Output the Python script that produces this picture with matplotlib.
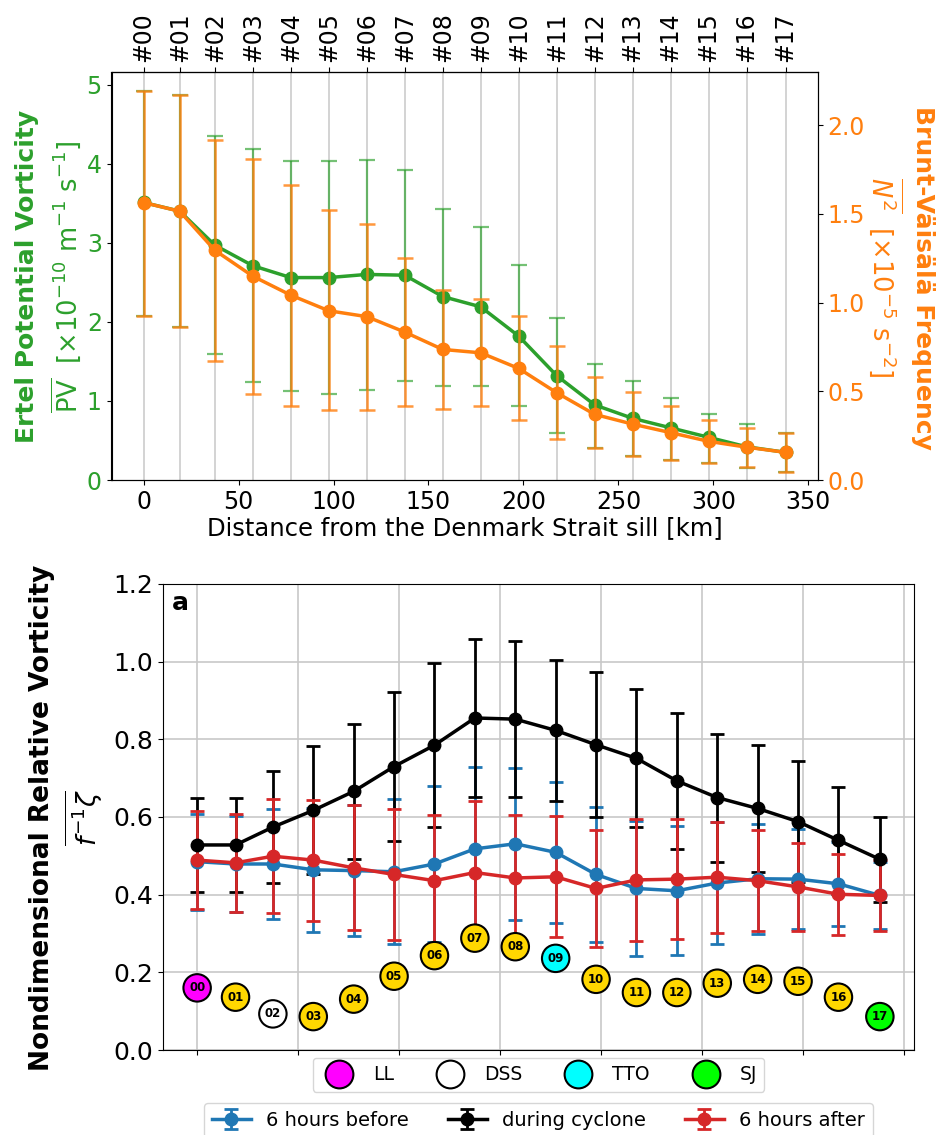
import numpy as np
import matplotlib.pyplot as plt
from matplotlib.lines import Line2D

W, H = 938, 1135

# distance of each section from the sill [km]
dist = [0, 19, 37.5, 57.5, 77.5, 97.5, 117.5, 137.5, 157.5, 177.5,
        197.5, 217.5, 237.5, 257.5, 277.5, 297.5, 317.5, 338]
sections = ['#%02d' % i for i in range(18)]

# Ertel potential vorticity [1e-10 m-1 s-1]
pv_mean = [3.51, 3.40, 2.97, 2.71, 2.56, 2.56, 2.60, 2.59, 2.32, 2.19,
           1.82, 1.32, 0.95, 0.78, 0.66, 0.54, 0.42, 0.35]
pv_hi = [4.92, 4.87, 4.35, 4.18, 4.03, 4.04, 4.05, 3.92, 3.43, 3.20,
         2.72, 2.05, 1.47, 1.25, 1.04, 0.84, 0.71, 0.60]
pv_lo = [2.08, 1.94, 1.59, 1.24, 1.12, 1.09, 1.14, 1.25, 1.19, 1.19,
         0.93, 0.59, 0.41, 0.30, 0.25, 0.21, 0.15, 0.10]

# Brunt-Vaisala frequency N^2 [1e-5 s-2]
n2_mean = [1.564, 1.515, 1.295, 1.149, 1.042, 0.954, 0.921, 0.834, 0.736, 0.717,
           0.629, 0.492, 0.370, 0.315, 0.267, 0.218, 0.185, 0.156]
n2_hi = [2.193, 2.171, 1.917, 1.810, 1.662, 1.520, 1.444, 1.252, 1.070, 1.021,
         0.927, 0.753, 0.579, 0.495, 0.419, 0.339, 0.294, 0.267]
n2_lo = [0.927, 0.865, 0.669, 0.486, 0.415, 0.397, 0.397, 0.415, 0.401, 0.415,
         0.339, 0.232, 0.178, 0.134, 0.111, 0.094, 0.076, 0.045]

# nondimensional relative vorticity, mean and std
before_mean = [0.485, 0.479, 0.479, 0.464, 0.462, 0.459, 0.479, 0.518, 0.531, 0.509,
               0.452, 0.416, 0.410, 0.430, 0.441, 0.440, 0.428, 0.398]
before_std = [0.124, 0.124, 0.142, 0.160, 0.169, 0.187, 0.200, 0.210, 0.195, 0.182,
              0.173, 0.173, 0.166, 0.158, 0.142, 0.128, 0.108, 0.086]
during_mean = [0.528, 0.528, 0.574, 0.617, 0.666, 0.730, 0.785, 0.855, 0.852, 0.823,
               0.786, 0.751, 0.693, 0.650, 0.622, 0.588, 0.540, 0.491]
during_std = [0.121, 0.120, 0.144, 0.165, 0.173, 0.193, 0.211, 0.204, 0.200, 0.182,
              0.187, 0.178, 0.175, 0.165, 0.163, 0.155, 0.137, 0.110]
after_mean = [0.489, 0.482, 0.499, 0.489, 0.469, 0.452, 0.436, 0.457, 0.443, 0.446,
              0.416, 0.438, 0.440, 0.445, 0.436, 0.420, 0.401, 0.398]
after_std = [0.126, 0.126, 0.147, 0.156, 0.161, 0.169, 0.168, 0.185, 0.162, 0.156,
             0.151, 0.158, 0.154, 0.143, 0.130, 0.113, 0.105, 0.091]

# section markers
sec_y = [0.160, 0.136, 0.093, 0.086, 0.131, 0.190, 0.243, 0.288, 0.266, 0.236,
         0.182, 0.148, 0.148, 0.172, 0.182, 0.177, 0.136, 0.086]
sec_type = ['LL', 'x', 'DSS', 'x', 'x', 'x', 'x', 'x', 'x', 'TTO',
            'x', 'x', 'x', 'x', 'x', 'x', 'x', 'SJ']
type_col = {'LL': '#ff00ff', 'DSS': 'white', 'TTO': '#00ffff', 'SJ': '#00ff00', 'x': '#ffd700'}

green = '#2ca02c'
orange = '#ff7f0e'

fig = plt.figure(figsize=(W / 100, H / 100), dpi=100)


def px(x, y):
    return x / W, 1 - y / H


# ---------------- top panel ----------------
ax = fig.add_axes([111.5 / W, 1 - 480 / H, (817.6 - 111.5) / W, (480 - 72) / H])
for d in dist:
    ax.axvline(d, color='#cccccc', lw=1.2, zorder=0)

pm = np.array(pv_mean)
l, caps, bars = ax.errorbar(dist, pm, yerr=[pm - np.array(pv_lo), np.array(pv_hi) - pm],
                            color=green, marker='o', ms=9, lw=2.5, elinewidth=1.6,
                            capsize=6, capthick=1.6)
for c in caps:
    c.set_alpha(0.65)
for b in bars:
    b.set_alpha(0.65)
ax.set_xlim(-16.9, 354.9)
ax.set_ylim(0, 5.16)
ax.set_xticks(np.arange(0, 351, 50))
ax.tick_params(axis='x', labelsize=17)
ax.tick_params(axis='y', labelsize=17, labelcolor=green)
ax.set_xlabel('Distance from the Denmark Strait sill [km]', fontsize=17.5, labelpad=2)

axr = ax.twinx()
nm = np.array(n2_mean)
l, caps, bars = axr.errorbar(dist, nm, yerr=[nm - np.array(n2_lo), np.array(n2_hi) - nm],
                             color=orange, marker='o', ms=9, lw=2.5, elinewidth=1.8,
                             capsize=6, capthick=1.8)
for c in caps:
    c.set_alpha(0.8)
for b in bars:
    b.set_alpha(0.8)
axr.set_ylim(0, 2.30)
axr.set_yticks([0, 0.5, 1.0, 1.5, 2.0])
axr.tick_params(axis='y', labelsize=17, labelcolor=orange)

top = ax.secondary_xaxis('top')
top.set_xticks(dist, sections)
top.tick_params(axis='x', labelsize=17, rotation=90)

fig.text(*px(27.5, 276), 'Ertel Potential Vorticity', rotation=90, color=green,
         fontsize=18, fontweight='bold', ha='center', va='center')
fig.text(*px(66, 277), r'$\overline{\mathrm{PV}}$  [$\times$10$^{-10}$ m$^{-1}$ s$^{-1}$]',
         rotation=90, color=green, fontsize=18.5, ha='center', va='center')
fig.text(*px(923, 278), 'Brunt-Väisälä Frequency', rotation=270, color=orange,
         fontsize=18, fontweight='bold', ha='center', va='center')
fig.text(*px(886, 277), r'$\overline{N^2}$  [$\times$10$^{-5}$ s$^{-2}$]',
         rotation=270, color=orange, fontsize=18.5, ha='center', va='center')

# ---------------- bottom panel ----------------
ax2 = fig.add_axes([163 / W, 1 - 1050 / H, (914 - 163) / W, (1050 - 584) / H])
ax2.set_axisbelow(True)
ax2.grid(True, color='#c8c8c8', lw=1.2)

kw = dict(marker='o', ms=9, lw=2.5, elinewidth=2, capsize=5, capthick=2)
ax2.errorbar(dist, before_mean, yerr=before_std, color='#1f77b4', label='6 hours before', **kw)
ax2.errorbar(dist, during_mean, yerr=during_std, color='black', label='during cyclone', **kw)
ax2.errorbar(dist, after_mean, yerr=after_std, color='#d62728', label='6 hours after', **kw)

ax2.scatter(dist, sec_y, s=390, c=[type_col[t] for t in sec_type],
            edgecolors='black', linewidths=1.5, zorder=6)
for i, (d, y) in enumerate(zip(dist, sec_y)):
    ax2.text(d, y, '%02d' % i, ha='center', va='center', fontsize=8.5,
             fontweight='bold', zorder=7)

ax2.set_xlim(-16.9, 354.9)
ax2.set_ylim(0, 1.2)
ax2.set_xticks(np.arange(0, 351, 50))
ax2.set_yticks(np.arange(0, 1.21, 0.2))
ax2.tick_params(axis='x', labelbottom=False)
ax2.tick_params(axis='y', labelsize=18)
ax2.text(0.012, 0.985, 'a', transform=ax2.transAxes, fontsize=18, fontweight='bold',
         ha='left', va='top')

fig.text(*px(42.5, 818), 'Nondimensional Relative Vorticity', rotation=90,
         fontsize=19, fontweight='bold', ha='center', va='center')
fig.text(*px(84, 818), r'$\overline{f^{-1}\zeta}$', rotation=90,
         fontsize=19, ha='center', va='center')

site_handles = [Line2D([], [], ls='', marker='o', ms=20, mfc=type_col[t], mec='black',
                       mew=1.5, label=t) for t in ['LL', 'DSS', 'TTO', 'SJ']]
leg1 = ax2.legend(handles=site_handles, loc='upper center', bbox_to_anchor=(0.5, -0.0165),
                  ncol=4, fontsize=13.5, borderaxespad=0)
ax2.add_artist(leg1)
ax2.legend(loc='upper center', bbox_to_anchor=(0.5, -0.1137), ncol=3, fontsize=14,
           borderaxespad=0)

fig.savefig('out.png', dpi=100)
